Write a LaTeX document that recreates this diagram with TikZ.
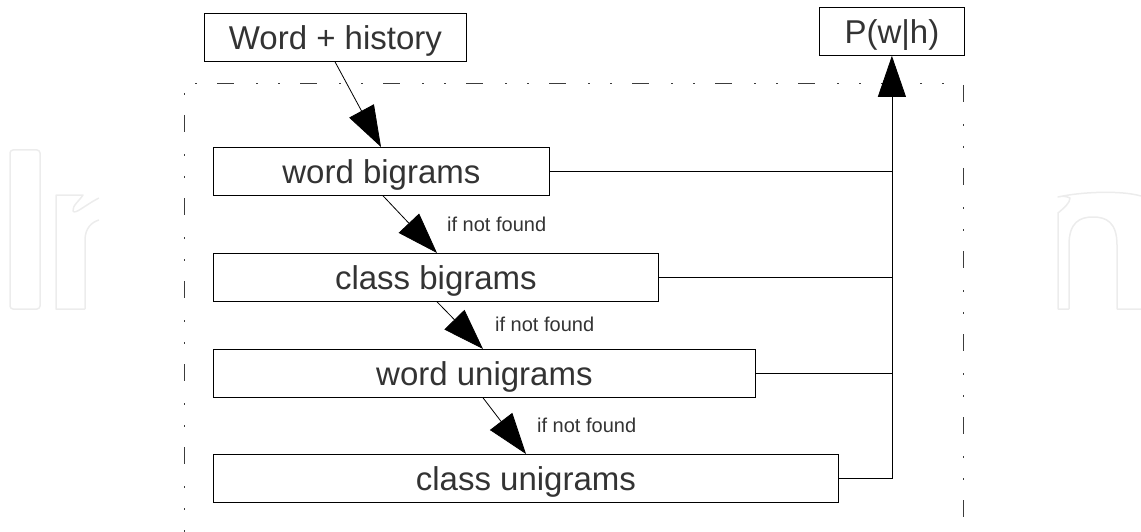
\documentclass[tikz,border=0pt]{standalone}
\usepackage{fontspec}
\setmainfont{Liberation Sans}
\usetikzlibrary{arrows.meta}
\definecolor{txt}{RGB}{51,51,51}
\definecolor{wm}{RGB}{236,236,236}
\definecolor{frm}{RGB}{60,60,60}
\begin{document}
\begin{tikzpicture}[x=1pt,y=-1pt,
  box/.style={draw=black, line width=0.8pt, inner sep=0pt, text height=36pt, text depth=12pt,
              font=\fontsize{33}{40}\selectfont, text=txt, anchor=north west},
  lbl/.style={font=\fontsize{20}{24}\selectfont, text=txt, anchor=base west, inner sep=0pt},
  conn/.style={line width=0.8pt, draw=black},
  arr/.style={conn, -{Triangle[length=41pt,width=28pt]}},
  frameline/.style={line width=0.9pt, draw=frm, dash pattern=on 17pt off 22pt on 2pt off 20pt on 2pt off 20pt},
  wmark/.style={draw=wm, line width=1.5pt, line join=round}
]
\useasboundingbox (0,0) rectangle (1141,532);

% faint watermark
\draw[wmark, rounded corners=3pt] (10,150) rectangle (40,309);
\begin{scope}
  \clip (45,180) rectangle (99,320);
  \draw[wmark] (85,309) -- (56,309) -- (56,195) -- (83,195)
     .. controls (80,200) and (72,206) .. (73,211)
     .. controls (75,215) and (85,205) .. (99,198);
  \draw[wmark] (85,309) -- (85,240) .. controls (85,228) and (92,222) .. (99,220);
\end{scope}
\draw[wmark] (1069,309) -- (1058,309) -- (1058,213)
   .. controls (1064,208) and (1070,203) .. (1070,198)
   .. controls (1066,196) and (1062,196) .. (1058,197)
   .. controls (1080,192) and (1120,190) .. (1141,196);
\draw[wmark] (1069,309) -- (1069,245) .. controls (1069,222) and (1080,217) .. (1093,217)
   .. controls (1106,217) and (1117,222) .. (1117,245) -- (1117,309) -- (1141,309);

% frame
\draw[frameline, dash phase=50pt] (184,83) -- (963,83);
\draw[frameline, dash phase=51pt] (184,83) -- (184,532);
\draw[frameline, dash phase=81pt] (963,83) -- (963,532);

% boxes
\node[box, minimum width=262pt] (wh) at (204,13) {Word + history};
\node[box, minimum width=145pt] (pw) at (819,7) {P(w|h)};
\node[box, minimum width=336pt] (wb) at (213,147) {word bigrams};
\node[box, minimum width=445pt] (cb) at (213,253) {class bigrams};
\node[box, minimum width=542pt] (wu) at (213,349) {word unigrams};
\node[box, minimum width=625pt] (cu) at (213,454) {class unigrams};

% labels
\node[lbl] (l1) at (447,231) {if not found};
\node[lbl] (l2) at (495,331) {if not found};
\node[lbl] (l3) at (537,432) {if not found};

% chain arrows
\draw[arr] ([xshift=131pt]wh.south west) -- ([xshift=168pt]wb.north west);
\draw[arr] ([xshift=170pt]wb.south west) -- ([xshift=224pt]cb.north west);
\draw[arr] ([xshift=224pt]cb.south west) -- ([xshift=270pt]wu.north west);
\draw[arr] ([xshift=270pt]wu.south west) -- ([xshift=313pt]cu.north west);

% bus to P(w|h)
\draw[conn] (wb.east) -- (wb.east -| pw.south);
\draw[conn] (cb.east) -- (cb.east -| pw.south);
\draw[conn] (wu.east) -- (wu.east -| pw.south);
\draw[arr] (cu.east) -| (pw.south);
\end{tikzpicture}
\end{document}
